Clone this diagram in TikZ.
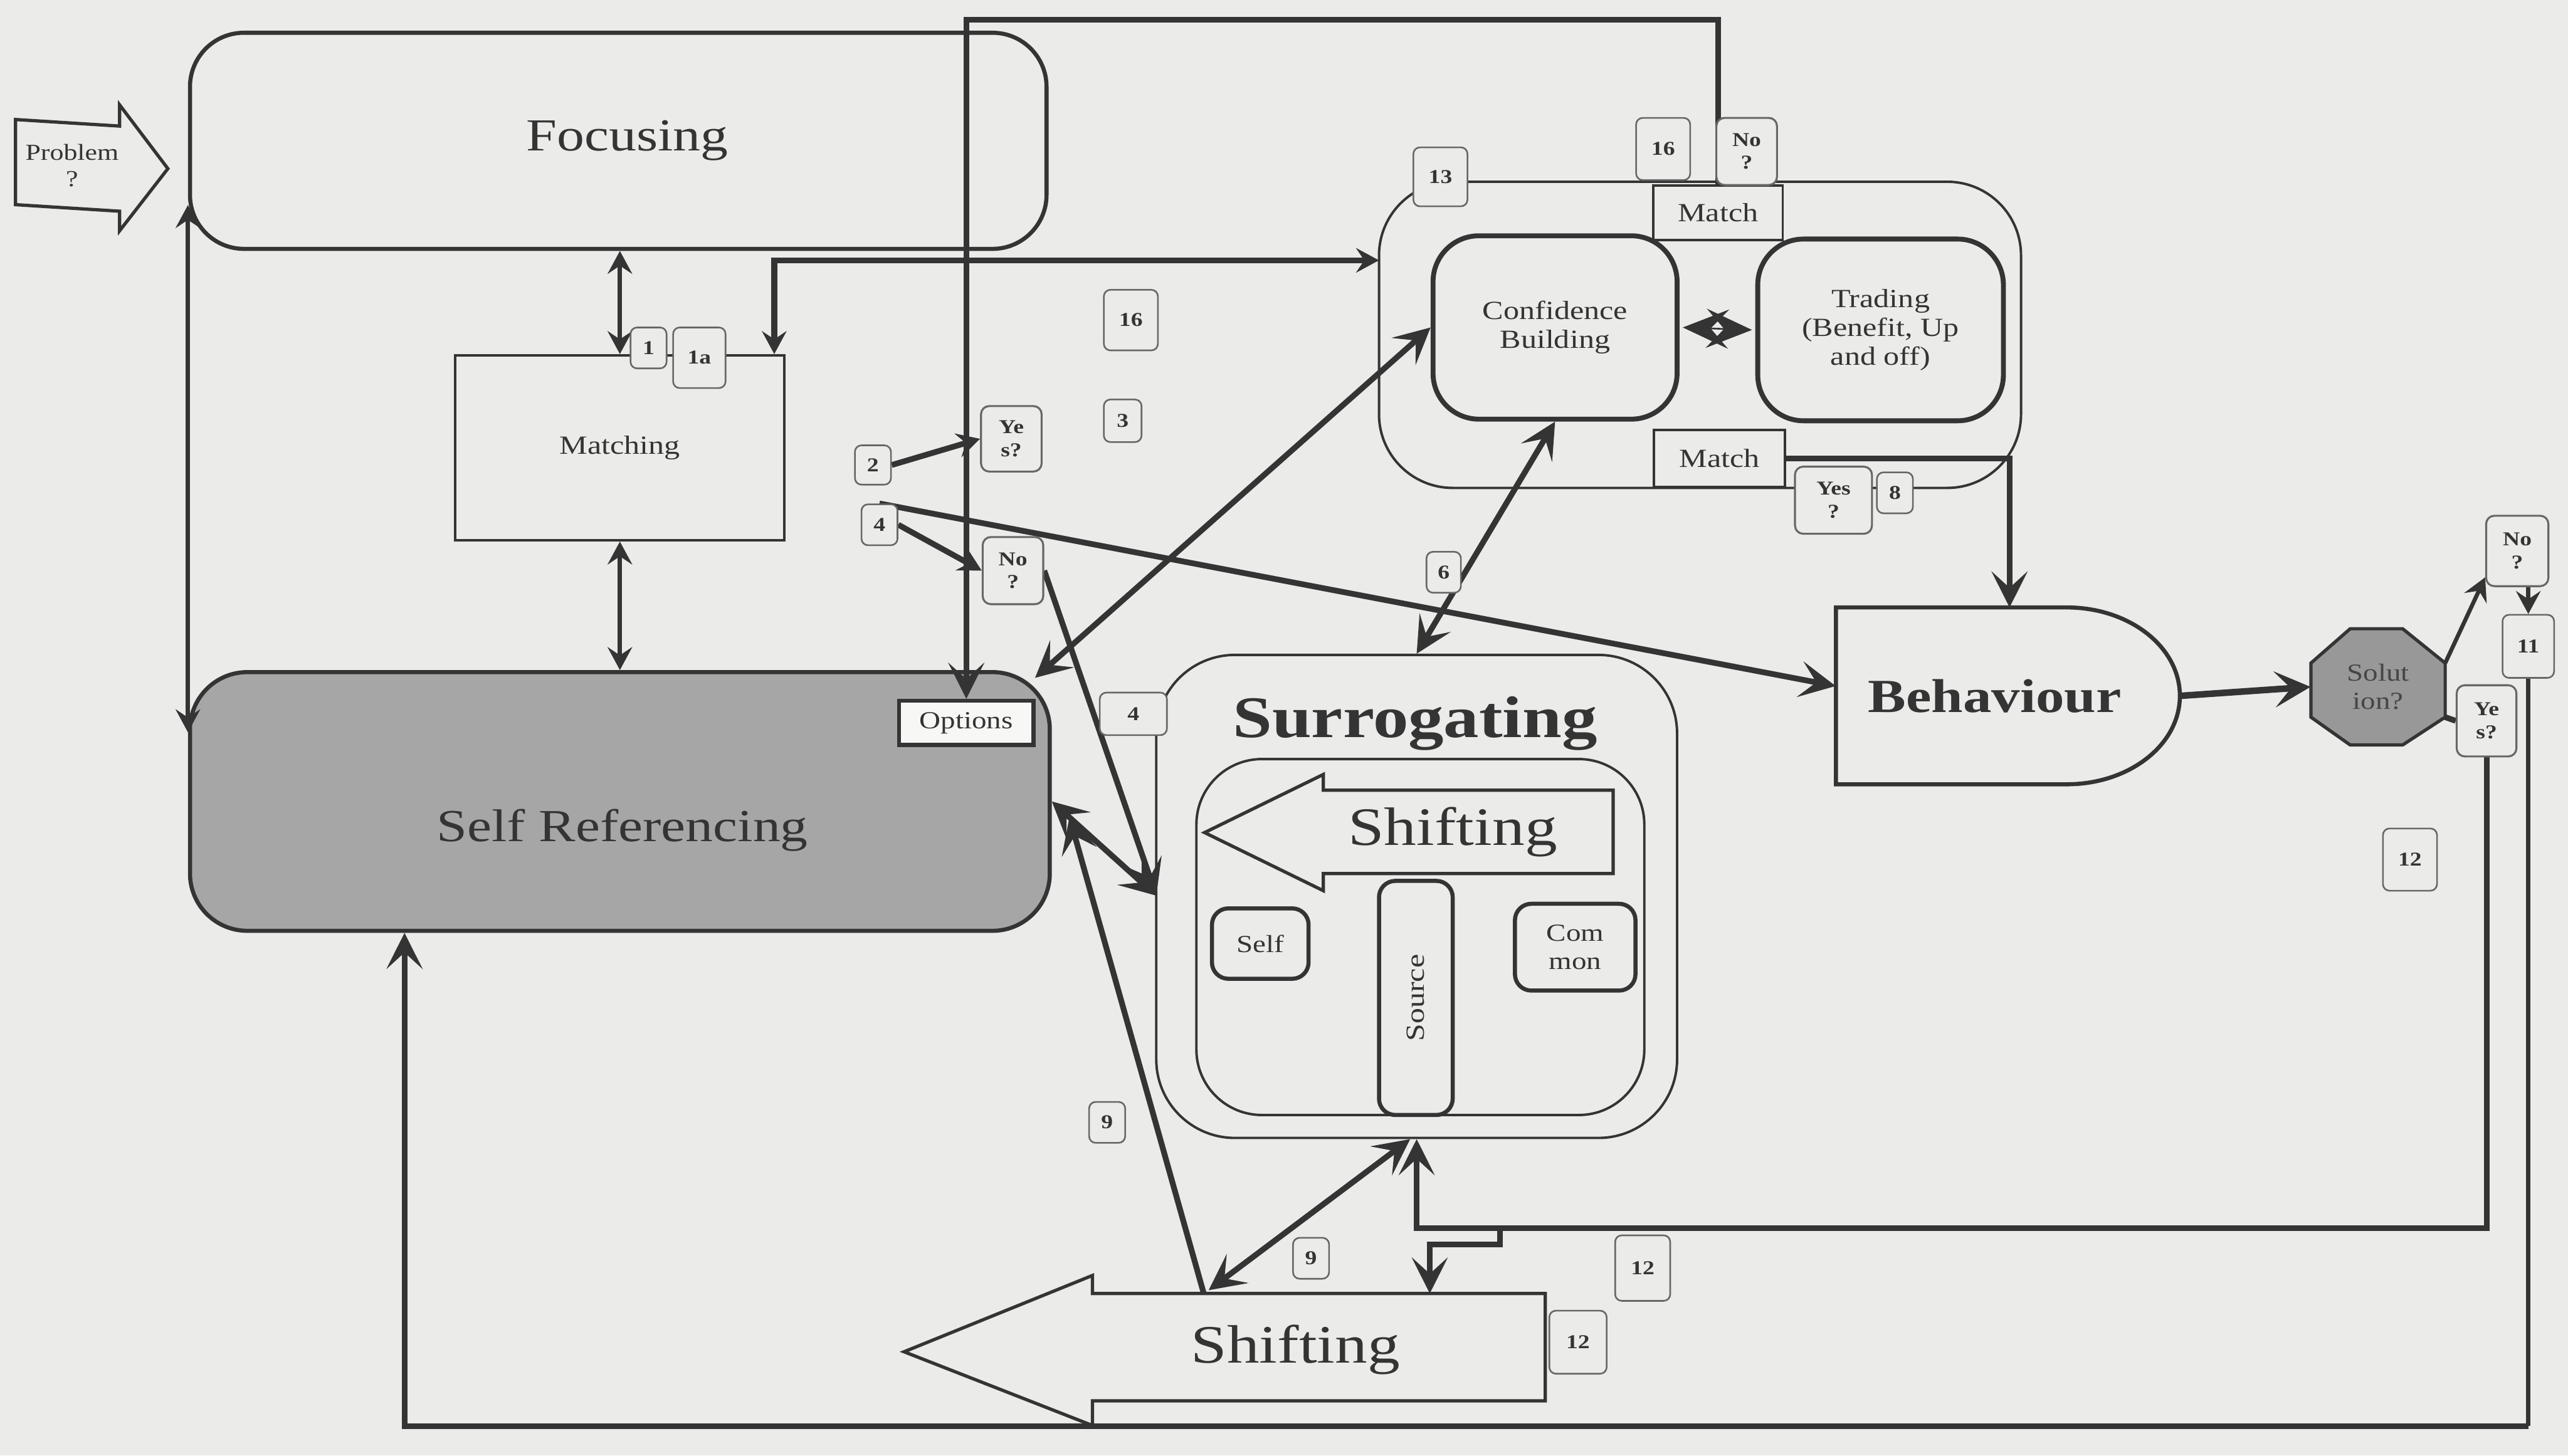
\documentclass[tikz,border=0pt]{standalone}
\usepackage{fontspec}
\usepackage{graphicx}
\setmainfont{Liberation Serif}[FakeStretch=1.2]
\usetikzlibrary{arrows.meta,calc}
\definecolor{bgc}{RGB}{235,235,233}
\definecolor{ink}{RGB}{52,52,52}
\definecolor{srg}{RGB}{166,166,166}
\definecolor{solg}{RGB}{152,152,152}
\definecolor{txtg}{RGB}{70,70,70}
\newcommand\fsz[2]{\fontsize{#1}{#2}\selectfont}
\pgfdeclarelayer{toplayer}
\pgfsetlayers{main,toplayer}
\begin{document}
\begin{tikzpicture}[x=1pt,y=-1pt,
  >={Stealth[length=22pt,width=22pt,inset=10pt]},
  medhead/.style={>={Stealth[length=14pt,width=15pt,inset=5pt]}},
  box/.style={draw=ink,text=ink,inner sep=0pt,align=center,fill=bgc},
  numbox/.style={box,draw=ink!75,rounded corners=4pt,line width=1pt,font=\bfseries\fsz{12}{13}},
  qbox/.style={box,draw=ink!75,rounded corners=5pt,line width=1.2pt,font=\bfseries\fsz{12}{14}},
  conn/.style={draw=ink,line width=3.5pt},
  cthin/.style={draw=ink,line width=2.5pt},
  plain/.style={text=ink,inner sep=0pt,align=center}]
\fill[bgc] (0,0) rectangle (1568,889);
\useasboundingbox (0,0) rectangle (1568,889);

% Problem arrow
\draw[ink,line width=2pt,fill=bgc] (9.5,73) -- (73,77) -- (73,64) -- (102.5,103) -- (73,141) -- (73,129) -- (9.5,125) -- cycle;
\node[plain,font=\fsz{14}{16}] (prob) at (44,101) {Problem\\?};

% main boxes
\node[box,line width=2.5pt,rounded corners=33pt,minimum width=523pt,minimum height=132pt,font=\fsz{28}{32}] (focus) at (377.5,86) {\hspace*{11pt}Focusing};
\node[box,line width=1.5pt,minimum width=201pt,minimum height=113pt,font=\fsz{16}{18}] (match) at (378.5,273.5) {Matching};
\node[box,fill=srg,line width=2.5pt,rounded corners=35pt,minimum width=525pt,minimum height=158pt] (selfref) at (378.5,489.5) {};
\node[plain,font=\fsz{28}{32}] (selfreftxt) at (380,507) {Self Referencing};

% confidence / trading container
\node[box,line width=1.5pt,rounded corners=45pt,minimum width=392pt,minimum height=187pt] (outer) at (1038,204.5) {};
\node[box,line width=1.5pt,minimum width=79pt,minimum height=33.5pt,font=\fsz{16}{18}] (matchtop) at (1049,130) {Match};
\node[box,line width=3pt,rounded corners=28pt,minimum width=149pt,minimum height=112pt,font=\fsz{16}{17.5}] (conf) at (949.5,200) {Confidence\\Building};
\node[box,line width=3pt,rounded corners=28pt,minimum width=150pt,minimum height=111pt,font=\fsz{16}{17.5}] (trad) at (1148.25,201.5) {Trading\\(Benefit, Up\\and off)};
\node[box,line width=1.5pt,minimum width=80pt,minimum height=35pt,font=\fsz{16}{18}] (matchbot) at (1050,280) {Match};

% Behaviour
\draw[ink,line width=2.5pt,fill=bgc] (1121,371) -- (1262,371) .. controls (1300,371) and (1331,395) .. (1331,425) .. controls (1331,455) and (1300,479) .. (1262,479) -- (1121,479) -- cycle;
\node[inner sep=0pt,minimum width=210pt,minimum height=108pt] (behav) at (1226,425) {};
\node[plain,font=\bfseries\fsz{29}{32}] (behavtxt) at (1218,425) {Behaviour};

% Solution octagon
\draw[ink,line width=2pt,fill=solg] (1435,384) -- (1467,384) -- (1493,405) -- (1493,438) -- (1467,455) -- (1435,455) -- (1411,438) -- (1411,405) -- cycle;
\node[inner sep=0pt,minimum width=82pt,minimum height=71pt,align=center,text=txtg,font=\fsz{15}{17}] (sol) at (1452,419.5) {Solut\\ion?};

% Surrogating
\node[box,line width=1.5pt,rounded corners=48pt,minimum width=318pt,minimum height=295pt] (surr) at (865,547.5) {};
\node[plain,font=\bfseries\fsz{36}{40}] (surrtxt) at (864,442) {Surrogating};
\node[box,line width=1.5pt,rounded corners=40pt,minimum width=273.5pt,minimum height=217.4pt] (inner) at (867.25,572.3) {};
\draw[ink,line width=2pt,fill=bgc] (735.5,508.5) -- (808,473) -- (808,482.6) -- (985,482.6) -- (985,533.5) -- (808,533.5) -- (808,544) -- cycle;
\node[plain,font=\fsz{33}{36}] (shiftin) at (887,508) {Shifting};
\node[box,line width=2.5pt,rounded corners=10pt,minimum width=59pt,minimum height=43pt,font=\fsz{15}{17}] (selfb) at (769.5,576.3) {Self};
\node[box,line width=2.5pt,rounded corners=10pt,minimum width=45pt,minimum height=143pt,font=\fsz{16}{18}] (source) at (864.5,609.5) {\rotatebox{90}{Source}};
\node[box,line width=2.5pt,rounded corners=10pt,minimum width=73.6pt,minimum height=53pt,font=\fsz{15}{17.5}] (common) at (961.8,578.5) {Com\\mon};

% bottom Shifting arrow
\draw[ink,line width=2pt,fill=bgc] (552,825.6) -- (667,779) -- (667,790) -- (943.5,790) -- (943.5,855.6) -- (667,855.6) -- (667,870.6) -- cycle;
\node[plain,font=\fsz{33}{36}] (shiftout) at (791,824.5) {Shifting};

% small labelled boxes (drawn above connectors)
\begin{pgfonlayer}{toplayer}
\node[box,fill=white!60!bgc,line width=2.5pt,minimum width=82pt,minimum height=27pt,font=\fsz{15}{17}] (options) at (590,441.5) {Options};
\node[numbox,minimum width=22pt,minimum height=25pt] (n1) at (396,212.5) {1};
\node[numbox,minimum width=32pt,minimum height=37pt] (n1a) at (427,218.5) {1a};
\node[numbox,minimum width=22pt,minimum height=24pt] (n2) at (533,284) {2};
\node[numbox,minimum width=22pt,minimum height=25pt] (n4a) at (537,320.5) {4};
\node[qbox,minimum width=37pt,minimum height=40pt] (yes1) at (617.5,268) {Ye\\s?};
\node[qbox,minimum width=37pt,minimum height=41pt] (no1) at (618.5,348.5) {No\\?};
\node[numbox,minimum width=23pt,minimum height=26pt] (n3) at (685.5,257) {3};
\node[numbox,minimum width=33pt,minimum height=37pt] (n16a) at (690.5,195.5) {16};
\node[numbox,minimum width=33pt,minimum height=36pt] (n13) at (879.5,108) {13};
\node[numbox,minimum width=33pt,minimum height=38pt] (n16b) at (1015.5,91) {16};
\node[qbox,minimum width=37pt,minimum height=41pt] (no2) at (1066.5,92.5) {No\\?};
\node[qbox,minimum width=47pt,minimum height=41pt] (yes2) at (1119.5,305.5) {Yes\\?};
\node[numbox,minimum width=22pt,minimum height=25pt] (n8) at (1157,301) {8};
\node[qbox,minimum width=38pt,minimum height=43pt] (no3) at (1537,336.5) {No\\?};
\node[numbox,minimum width=31.5pt,minimum height=38.5pt] (n11) at (1543.75,394.75) {11};
\node[qbox,minimum width=36.5pt,minimum height=43.5pt] (yes3) at (1518.25,440.25) {Ye\\s?};
\node[numbox,minimum width=33pt,minimum height=38pt] (n12a) at (1471.5,525) {12};
\node[numbox,minimum width=41pt,minimum height=26pt] (n4b) at (692,436) {4};
\node[numbox,minimum width=22pt,minimum height=25pt] (n9a) at (676,685.5) {9};
\node[numbox,minimum width=22pt,minimum height=25pt] (n9b) at (800.5,768.5) {9};
\node[numbox,minimum width=33.6pt,minimum height=40pt] (n12b) at (1003,774.5) {12};
\node[numbox,minimum width=35pt,minimum height=38.5pt] (n12c) at (963.5,819.75) {12};
\node[numbox,minimum width=21pt,minimum height=25pt] (n6) at (881.5,349.5) {6};
\end{pgfonlayer}

% coordinates for free ends
\coordinate (topturn) at (590,12);
\coordinate (mt) at (842,159);
\coordinate (sL) at (706,547);
\coordinate (sbA) at (735,790);
\coordinate (srR) at (653,499);
\coordinate (sbB) at (738,788);
\coordinate (oc) at (632,414);
\coordinate (bt) at (1227,371);
\coordinate (solNE) at (1493,405);
\coordinate (solSE) at (1493,438);
\coordinate (c12a) at (1518.25,750);
\coordinate (c12b) at (865,750);
\coordinate (st1) at (916,750);
\coordinate (st2) at (916,760);
\coordinate (st3) at (873,760);
\coordinate (st4) at (873,790);
\coordinate (cb1) at (247,871);

% connectors
\draw[cthin,medhead,<->] ($(focus.south west)+(0,-28)$) -- ($(selfref.north west)+(0,38)$);
\draw[cthin,medhead,<->] (match.north |- focus.south) -- (match.north);
\draw[cthin,medhead,<->] (match.south) -- (match.south |- selfref.north);
\draw[conn,->] (matchtop.north) |- (topturn) -- (options.north);
\draw[conn,medhead,<->] ($(match.north east)+(-7,0)$) |- (mt);
\draw[conn,medhead,->] (n2.east) -- (yes1.west);
\draw[conn,medhead,->] (n4a.east) -- (no1.west);
\draw[conn,->] (n4a.north) -- ($(behav.west)+(0,-6)$);
\draw[conn,->] (no1.east) -- (sL);
\draw[conn,<->] (selfref.east) -- (sL);
\draw[conn,->] (sbA) -- (srR);
\draw[conn,<->] (sbB) -- ($(surr.south)+(-4,0)$);
\draw[conn,<->] (oc) -- (conf.west);
\draw[conn,<->] (conf.south) -- (surr.north);
\draw[conn,->] (matchbot.east) -| (bt);
\draw[ink,line width=1pt,<->,>={Stealth[length=28pt,width=24pt,inset=11pt]}] ($(conf.east)+(2,0)$) -- ($(trad.west)+(-2,0)$);
\draw[ink,line width=4pt,->] (behav.east) -- (sol.west);
\draw[cthin,medhead,->] (solNE) -- ($(no3.south west)+(0,-6)$);
\draw[cthin,medhead,->] (n11.north |- no3.south) -- (n11.north);
\draw[conn] (solSE) -- (yes3.west);
\draw[conn,->] (yes3.south) -- (c12a) -- (c12b) -- (surr.south);
\draw[conn,->] (st1) -- (st2) -- (st3) -- (st4);
\draw[cthin] (n11.south) -- (n11.south |- cb1);
\draw[conn,->] (n11.south |- cb1) -- (cb1) -- (cb1 |- selfref.south);
\end{tikzpicture}
\end{document}
